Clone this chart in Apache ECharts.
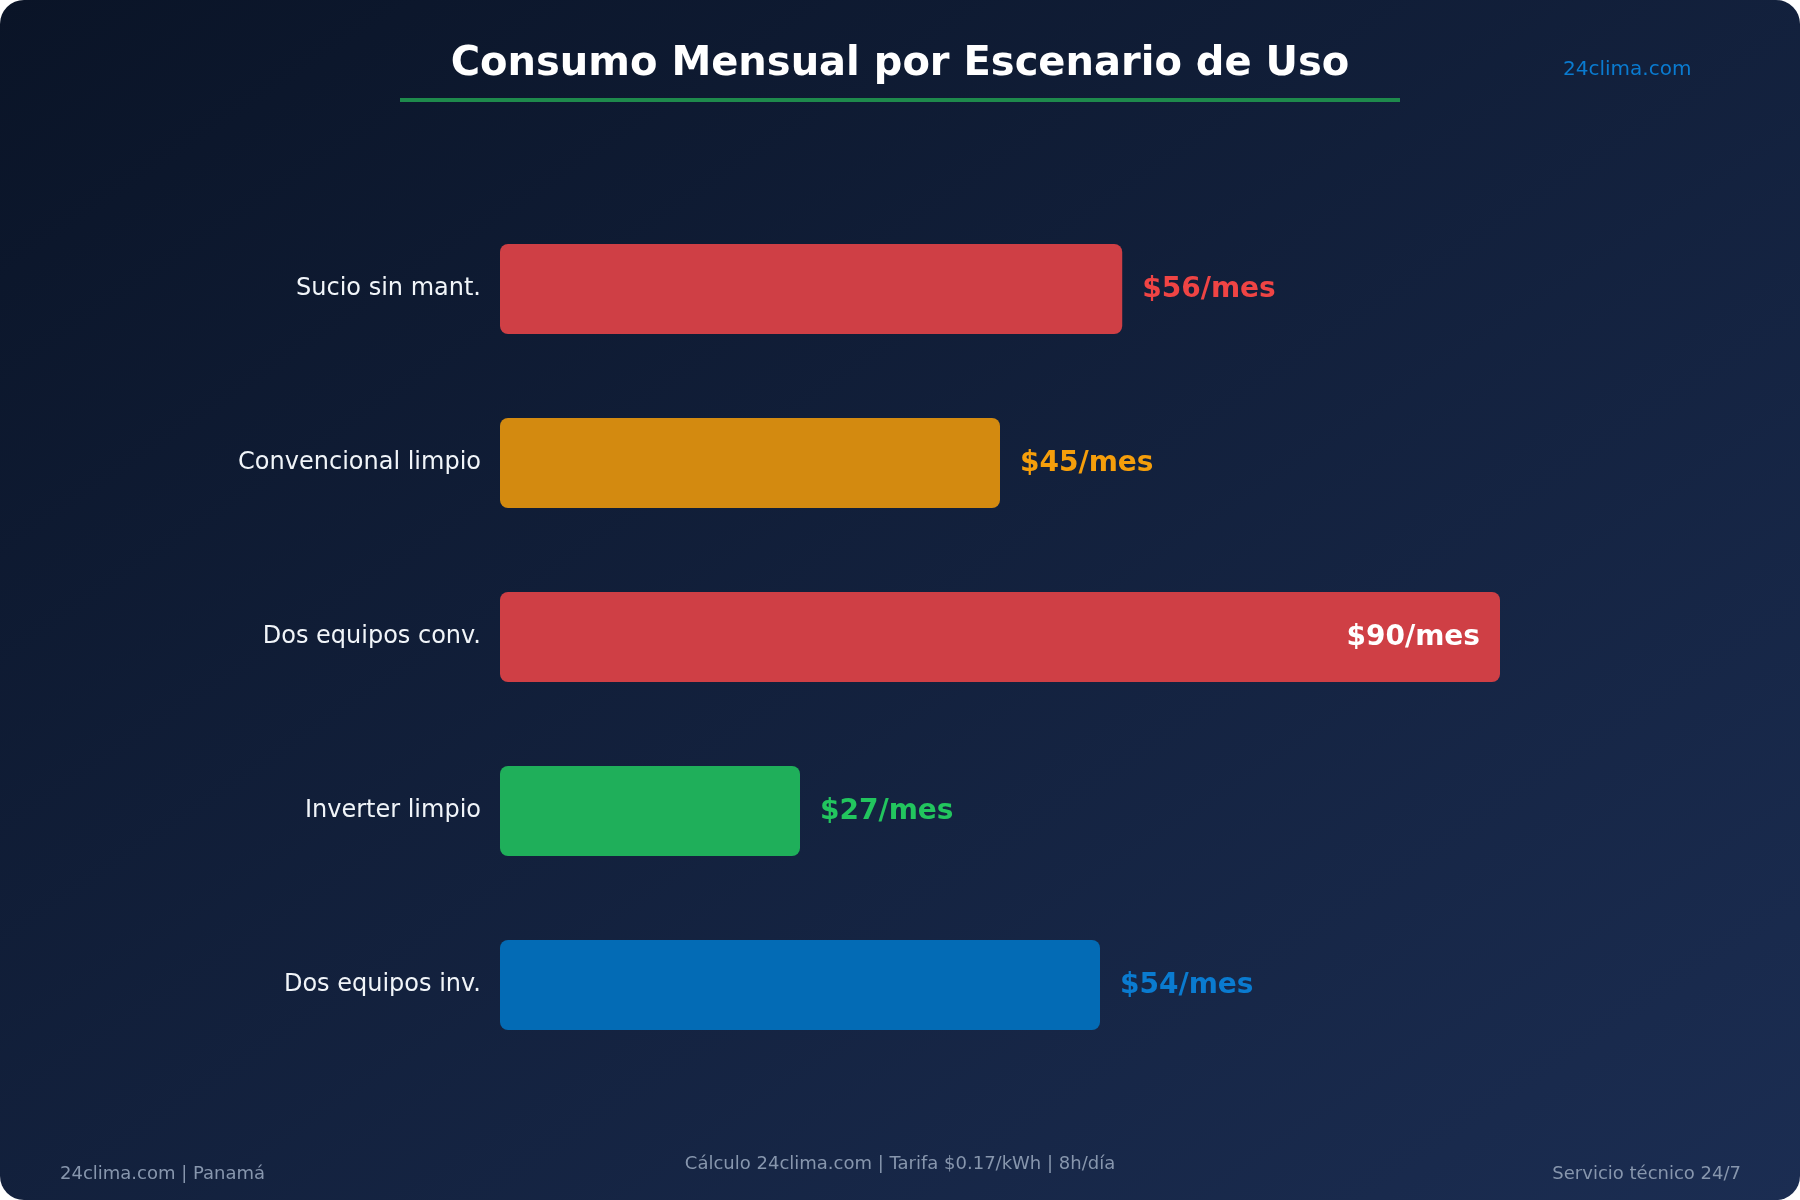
<!DOCTYPE html>
<html>
<head>
<meta charset="utf-8">
<title>Consumo Mensual por Escenario de Uso</title>
<script src="https://cdn.jsdelivr.net/npm/echarts@6/dist/echarts.min.js"></script>
<style>
    html, body { margin: 0; padding: 0; background: #ffffff; }
    #chart {
        width: 1800px;
        height: 1200px;
        border-radius: 24px;
        overflow: hidden;
        background: linear-gradient(to bottom right, #0a1427, #1b2d52);
    }
</style>
</head>
<body>
<div id="chart"></div>
<script>
var categories = ['Sucio sin mant.', 'Convencional limpio', 'Dos equipos conv.', 'Inverter limpio', 'Dos equipos inv.'];
var costs = [56, 45, 90, 27, 54];
var barColors = ['#cf3f45', '#d38a10', '#cf3f45', '#1faf5a', '#036bb5'];
var labelColors = ['#ef4444', '#f59e0b', '#ffffff', '#22c55e', '#0a7bd0'];
var insideBars = [false, false, true, false, false];

var font = '"DejaVu Sans", sans-serif';

var barChart = function (id) {
    var chartDom = document.getElementById(id);
    var myChart = echarts.init(chartDom, null, { renderer: 'canvas' });

    var seriesData = costs.map(function (v, i) {
        return {
            value: v,
            itemStyle: { color: barColors[i] },
            label: {
                position: insideBars[i] ? 'insideRight' : 'right',
                color: labelColors[i]
            }
        };
    });

    var option = {
        backgroundColor: 'transparent',
        textStyle: { fontFamily: font },
        grid: { left: 500, width: 1000, top: 202, height: 870 },
        xAxis: {
            type: 'value',
            min: 0,
            max: 90,
            show: false
        },
        yAxis: {
            type: 'category',
            inverse: true,
            data: categories,
            axisLine: { show: false },
            axisTick: { show: false },
            splitLine: { show: false },
            axisLabel: {
                color: '#f1f5f9',
                fontSize: 24,
                fontFamily: font,
                margin: 19,
                padding: [8, 0, 0, 0]
            }
        },
        series: [{
            type: 'bar',
            data: seriesData,
            barWidth: 90,
            itemStyle: { borderRadius: 8 },
            label: {
                show: true,
                distance: 20,
                offset: [0, 1],
                fontSize: 28,
                fontWeight: 'bold',
                fontFamily: font,
                formatter: function (p) { return '$' + p.value + '/mes'; }
            }
        }],
        graphic: [
            {
                type: 'text', x: 900, y: 65,
                style: {
                    text: 'Consumo Mensual por Escenario de Uso',
                    fill: '#ffffff', font: 'bold 40px ' + font,
                    textAlign: 'center', textVerticalAlign: 'middle'
                }
            },
            {
                type: 'rect',
                shape: { x: 400, y: 98, width: 1000, height: 4 },
                style: { fill: '#1e8a4c' }
            },
            {
                type: 'text', x: 1563, y: 70,
                style: {
                    text: '24clima.com', fill: '#0a7bd0',
                    font: '20px ' + font, textVerticalAlign: 'middle'
                }
            },
            {
                type: 'text', x: 60, y: 1174,
                style: {
                    text: '24clima.com | Panamá', fill: '#8796ad',
                    font: '18px ' + font, textVerticalAlign: 'middle'
                }
            },
            {
                type: 'text', x: 900, y: 1164,
                style: {
                    text: 'Cálculo 24clima.com | Tarifa $0.17/kWh | 8h/día', fill: '#8796ad',
                    font: '18px ' + font, textAlign: 'center', textVerticalAlign: 'middle'
                }
            },
            {
                type: 'text', x: 1741, y: 1174,
                style: {
                    text: 'Servicio técnico 24/7', fill: '#8796ad',
                    font: '18px ' + font, textAlign: 'right', textVerticalAlign: 'middle'
                }
            }
        ]
    };

    myChart.setOption(option);
    return myChart;
};
var consumo = barChart('chart');

window.addEventListener('resize', function () {
    consumo.resize();
});
</script>
</body>
</html>
